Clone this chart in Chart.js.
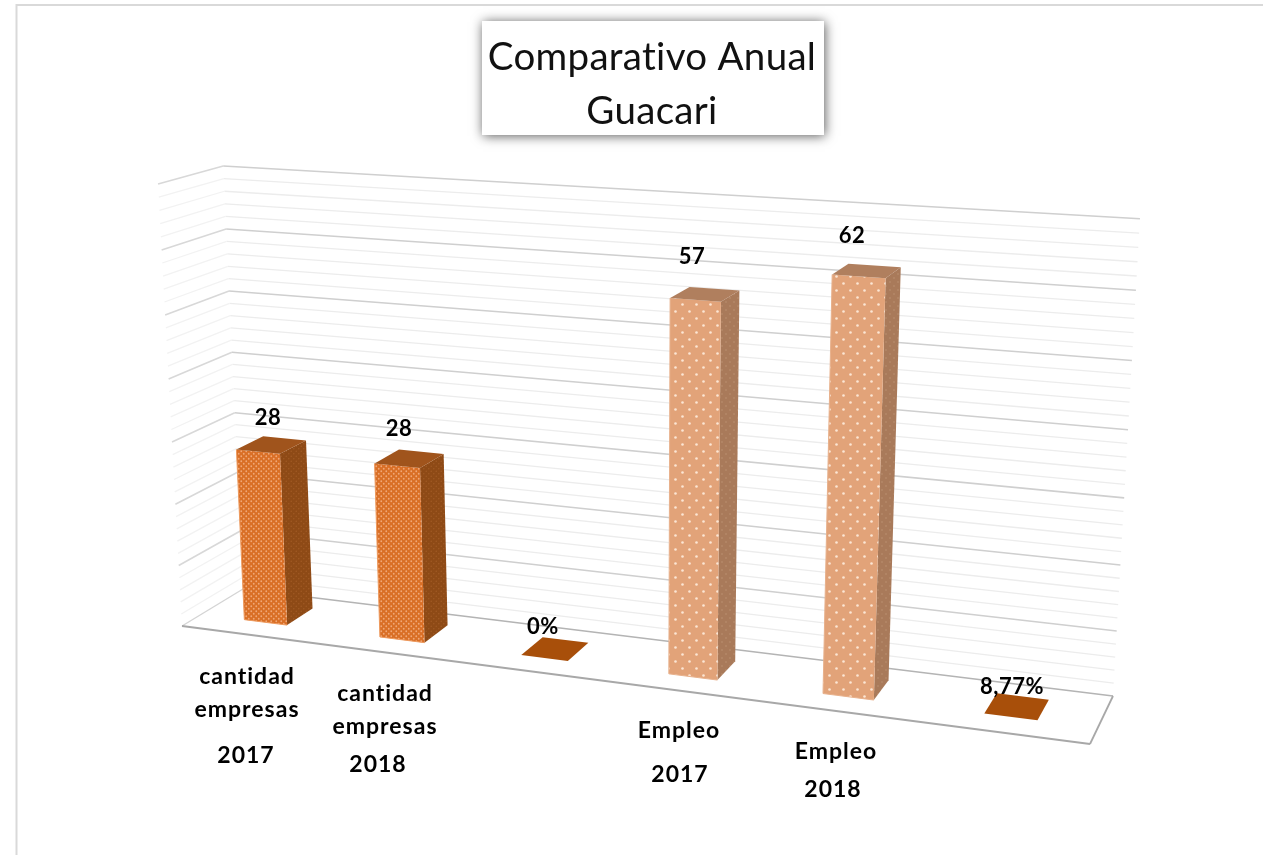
<!DOCTYPE html>
<html><head><meta charset="utf-8">
<script src="https://cdn.jsdelivr.net/npm/chart.js@4"></script>
<style>html,body{margin:0;padding:0;background:#fff}canvas{display:block;filter:blur(0.45px)}</style>
</head><body><canvas id="c" width="1263" height="855"></canvas>
<script>
const categories = ["cantidad empresas 2017","cantidad empresas 2018","","Empleo 2017","Empleo 2018",""];
const values = [28,28,0,57,62,0.0877];
const valueLabels = ["28","28","0%","57","62","8,77%"];
const titleLines = ["Comparativo Anual","Guacari"];
const categoryLines = [["cantidad","empresas","2017"],["cantidad","empresas","2018"],[],["Empleo","2017"],["Empleo","2018"],[]];
const faceStyles = ["dark","dark","flat","light","light","flat"];

/* view geometry of the 3D box (not data) */
const VIEW = {
  floor:{fl:[182,626],fr:[1090,744],br:[1113,696],bl:[243,589]},
  vanish:[640,9078], rise:-0.0497, depth:[0.31,0.75], shiftU:-0.0025
};
const LABEL_LAYOUT = [
  {ys:[677,710,756],xs:[247,247,246]},
  {ys:[694,727,765],xs:[385,385,378]},
  null,
  {ys:[731,775],xs:[679,680]},
  {ys:[752,790],xs:[836,833]},
  null];
const VALUE_LAYOUT = [[268,418],[399,429],[543,627],[692,257],[852,236],[1012,687]];

/* camera: floor homography plus a vertical vanishing point */
function camera(q,vp,s){
  const [x0,y0]=q.fl,[x1,y1]=q.fr,[x2,y2]=q.br,[x3,y3]=q.bl;
  const dx1=x1-x2,dx2=x3-x2,sx=x0-x1+x2-x3,dy1=y1-y2,dy2=y3-y2,sy=y0-y1+y2-y3;
  const d=dx1*dy2-dx2*dy1,g=(sx*dy2-dx2*sy)/d,h=(dx1*sy-sx*dy1)/d;
  const a=x1-x0+g*x1,b=x3-x0+h*x3,c=x0,dd=y1-y0+g*y1,e=y3-y0+h*y3,f=y0;
  return (u,v,z)=>{
    const w=g*u+h*v+1+z*s;
    return [(a*u+b*v+c+z*s*vp[0])/w,(dd*u+e*v+f+z*s*vp[1])/w];
  };
}
const project=camera(VIEW.floor,VIEW.vanish,VIEW.rise);
function dots(base,dot,w,h,r){
  const c=document.createElement('canvas');c.width=w;c.height=h;
  const x=c.getContext('2d');x.fillStyle=base;x.fillRect(0,0,w,h);x.fillStyle=dot;
  [[w/4,h/4],[3*w/4,3*h/4]].forEach(p=>{x.beginPath();x.arc(p[0],p[1],r,0,7);x.fill();});
  return c;
}
const PATS={
  dark:{front:dots('#d96f26','#f0a878',5,5,0.9),side:dots('#8e4a16','#a05a24',5,5,0.8),top:'#a0541c',edge:'#ee9a5e'},
  light:{front:dots('#e2a379','#fbe6d4',14,14,1.3),side:dots('#a97a5a','#b58869',8,8,1),top:'#b07f5e',edge:'#e8b18c'},
  flat:{front:'#a84f0a',side:'#a84f0a',top:'#a84f0a',edge:'#d98a4a'}
};
function poly(ctx,pts,fill){
  ctx.beginPath();pts.forEach((p,i)=>i?ctx.lineTo(p[0],p[1]):ctx.moveTo(p[0],p[1]));ctx.closePath();
  ctx.fillStyle=fill;ctx.fill();
}
function seg(ctx,a,b,color,w){ctx.strokeStyle=color;ctx.lineWidth=w;ctx.beginPath();ctx.moveTo(a[0],a[1]);ctx.lineTo(b[0],b[1]);ctx.stroke();}

const box3d={
  id:'box3d',
  beforeDraw(chart){
    const ctx=chart.ctx;ctx.save();
    ctx.fillStyle='#fff';ctx.fillRect(0,0,chart.width,chart.height);
    ctx.strokeStyle='#d9d9d9';ctx.lineWidth=2;
    ctx.beginPath();ctx.moveTo(16.5,855);ctx.lineTo(16.5,5);ctx.lineTo(1263,5);ctx.stroke();
    /* title box */
    ctx.save();ctx.shadowColor='rgba(0,0,0,.65)';ctx.shadowBlur=11;ctx.shadowOffsetX=1;ctx.shadowOffsetY=1;
    ctx.fillStyle='#fff';ctx.fillRect(482,21,342,114);ctx.restore();
    /* gridlines from the value axis */
    const ys=chart.scales.y;
    ys.ticks.forEach(t=>{
      if(t.value===0) return;
      const hh=(ys.bottom-ys.getPixelForValue(t.value))/(ys.bottom-ys.top);
      const major=t.value%10===0;
      const col=major?'#cfcfcf':'#ececec',w=major?1.6:1.3;
      const p0=project(0,0,hh),p1=project(0,1,hh),p2=project(1,1,hh);
      seg(ctx,p1,p2,col,w);seg(ctx,p0,p1,major?'#d8d8d8':'#f2f2f2',w);
    });
    const f=VIEW.floor;
    seg(ctx,f.fl,f.bl,'#d4d4d4',1.3);
    seg(ctx,f.bl,f.br,'#b4b4b4',1.6);
    seg(ctx,f.fl,f.fr,'#a8a8a8',1.8);
    seg(ctx,f.fr,f.br,'#a8a8a8',1.8);
    ctx.restore();
    ctx.letterSpacing='0.3px'; /* keeps the title free of ligatures */
  },
  beforeDatasetDraw(chart,args){
    const ctx=chart.ctx,a=chart.chartArea,meta=args.meta,[v0,v1]=VIEW.depth;
    const toU=x=>(x-a.left)/a.width+VIEW.shiftU,toH=y=>(a.bottom-y)/a.height;
    ctx.save();
    meta.data.forEach((el,i)=>{
      const u0=toU(el.x-el.width/2),u1=toU(el.x+el.width/2),h1=toH(el.y),h0=toH(el.base);
      const s=PATS[faceStyles[i]];
      const pat=o=>o instanceof HTMLCanvasElement?ctx.createPattern(o,'repeat'):o;
      const A=project(u0,v0,h0),B=project(u1,v0,h0),C=project(u1,v1,h0);
      const A2=project(u0,v0,h1),B2=project(u1,v0,h1),C2=project(u1,v1,h1),D2=project(u0,v1,h1);
      if(faceStyles[i]!=='flat'){
        poly(ctx,[B,C,C2,B2],pat(s.side));
        poly(ctx,[A,B,B2,A2],pat(s.front));
        seg(ctx,A,B,s.edge,1);seg(ctx,A,A2,s.edge,1);
      }
      poly(ctx,[A2,B2,C2,D2],pat(s.top));
    });
    ctx.restore();
    return false;
  },
  afterDatasetsDraw(chart){
    const ctx=chart.ctx;
    ctx.save();ctx.fillStyle='#000';ctx.textAlign='center';ctx.textBaseline='middle';
    ctx.font='700 22px Lato';ctx.letterSpacing='0.5px';
    valueLabels.forEach((t,i)=>ctx.fillText(t,VALUE_LAYOUT[i][0],VALUE_LAYOUT[i][1]));
    ctx.font='700 23px Lato';ctx.letterSpacing='1px';
    categoryLines.forEach((lines,i)=>{
      const l=LABEL_LAYOUT[i];if(!l)return;
      lines.forEach((t,k)=>ctx.fillText(t,l.xs[k],l.ys[k]));
    });
    ctx.restore();
  }
};

new Chart(document.getElementById('c'),{
  type:'bar',
  data:{labels:categories,datasets:[{label:'Comparativo',data:values,backgroundColor:'#d96f26',barPercentage:0.32,categoryPercentage:1}]},
  plugins:[box3d],
  options:{
    responsive:false,animation:false,
    layout:{padding:{left:224,right:183,top:0,bottom:210}},
    plugins:{legend:{display:false},tooltip:{enabled:false},
      title:{display:true,fullSize:false,text:titleLines,color:'#111',font:{family:'Lato',size:38.5,weight:'400',lineHeight:1.4},padding:{top:31,bottom:30}}},
    scales:{
      x:{display:false,grid:{display:false}},
      y:{display:false,min:0,max:70,ticks:{stepSize:2,autoSkip:false,maxTicksLimit:40}}
    }
  }
});
</script></body></html>
